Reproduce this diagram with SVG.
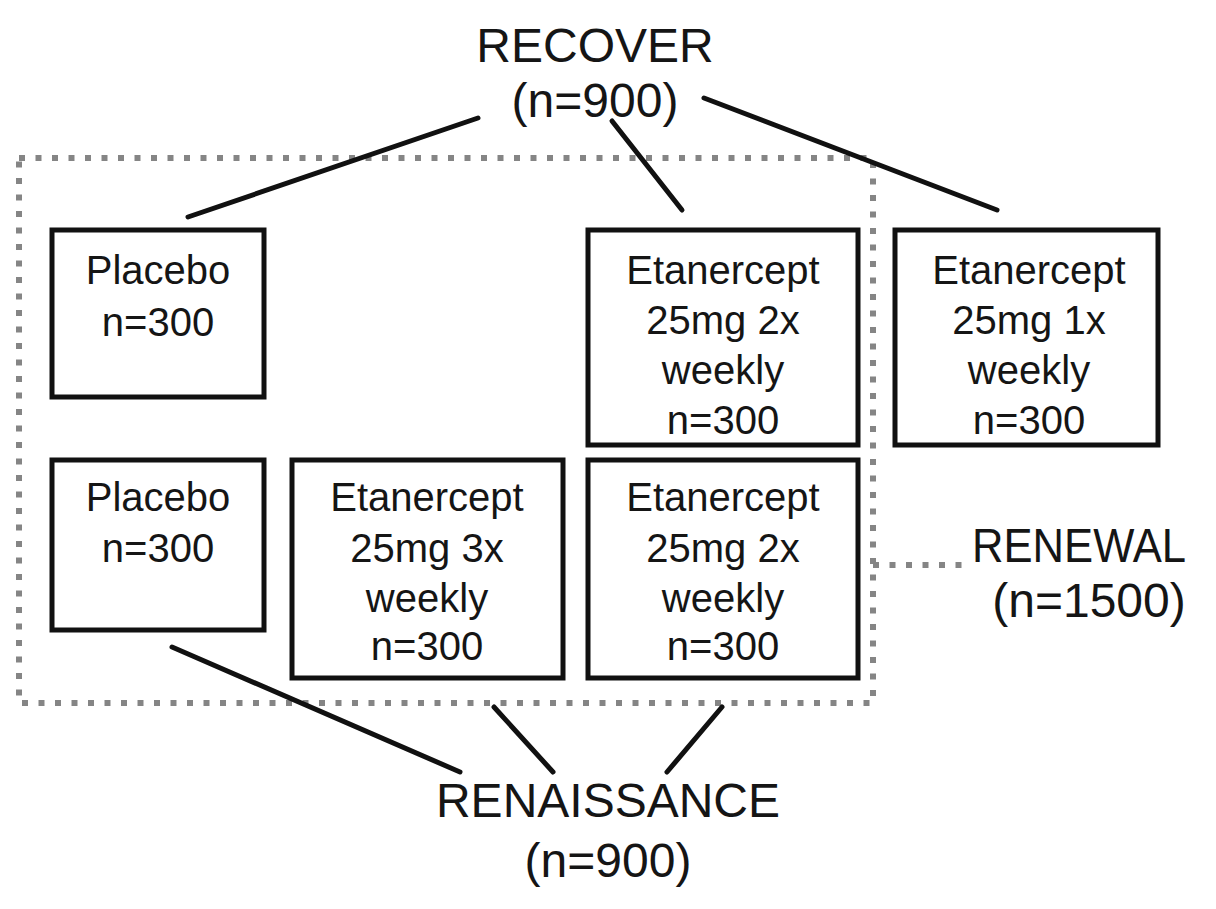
<svg xmlns="http://www.w3.org/2000/svg" width="1216" height="909" viewBox="0 0 1216 909">
<style>
.box{fill:#fff;stroke:#111;stroke-width:5}
.conn{stroke:#111;stroke-width:5;stroke-linecap:round;fill:none}
.dot{stroke:#858585;stroke-width:6;fill:none;stroke-dasharray:6 10.5}
text{font-family:"Liberation Sans",Arial,sans-serif;fill:#151515;text-anchor:middle}
.t{font-size:40px}
.big{font-size:48px}
</style>
<rect width="1216" height="909" fill="#fff"/>
<g id="group-renewal">
<rect class="dot" x="19" y="158" width="854" height="545"/>
<line class="dot" x1="873" y1="565" x2="965" y2="565"/>
</g>
<g id="connectors">
<line class="conn" x1="188" y1="217" x2="478" y2="118"/>
<line class="conn" x1="612" y1="121" x2="682" y2="210"/>
<line class="conn" x1="704" y1="98" x2="997" y2="210"/>
<line class="conn" x1="172" y1="647" x2="460" y2="772"/>
<line class="conn" x1="494" y1="707" x2="553" y2="772"/>
<line class="conn" x1="722" y1="707" x2="667" y2="772"/>
</g>
<g id="recover">
<text class="big" x="595" y="62">RECOVER</text>
<text class="big" x="595" y="117">(n=900)</text>
</g>
<g id="renaissance">
<text class="big" x="608" y="817">RENAISSANCE</text>
<text class="big" x="608" y="877">(n=900)</text>
</g>
<g id="renewal">
<text class="big" x="1079" y="562" textLength="214" lengthAdjust="spacingAndGlyphs">RENEWAL</text>
<text class="big" x="1089" y="617">(n=1500)</text>
</g>
<g id="recover-placebo">
<rect class="box" x="52" y="230" width="212" height="167"/>
<text class="t" x="158" y="284">Placebo</text>
<text class="t" x="158" y="336">n=300</text>
</g>
<g id="recover-eta-2x">
<rect class="box" x="588" y="230" width="270" height="215"/>
<text class="t" x="723" y="284">Etanercept</text>
<text class="t" x="723" y="334">25mg 2x</text>
<text class="t" x="723" y="384">weekly</text>
<text class="t" x="723" y="434">n=300</text>
</g>
<g id="recover-eta-1x">
<rect class="box" x="895" y="230" width="263" height="215"/>
<text class="t" x="1029" y="284">Etanercept</text>
<text class="t" x="1029" y="334">25mg 1x</text>
<text class="t" x="1029" y="384">weekly</text>
<text class="t" x="1029" y="434">n=300</text>
</g>
<g id="renaissance-placebo">
<rect class="box" x="52" y="460" width="212" height="170"/>
<text class="t" x="158" y="511">Placebo</text>
<text class="t" x="158" y="562">n=300</text>
</g>
<g id="renaissance-eta-3x">
<rect class="box" x="292" y="460" width="271" height="218"/>
<text class="t" x="427" y="511">Etanercept</text>
<text class="t" x="427" y="562">25mg 3x</text>
<text class="t" x="427" y="612">weekly</text>
<text class="t" x="427" y="660">n=300</text>
</g>
<g id="renaissance-eta-2x">
<rect class="box" x="588" y="460" width="270" height="218"/>
<text class="t" x="723" y="511">Etanercept</text>
<text class="t" x="723" y="562">25mg 2x</text>
<text class="t" x="723" y="612">weekly</text>
<text class="t" x="723" y="660">n=300</text>
</g>
</svg>
